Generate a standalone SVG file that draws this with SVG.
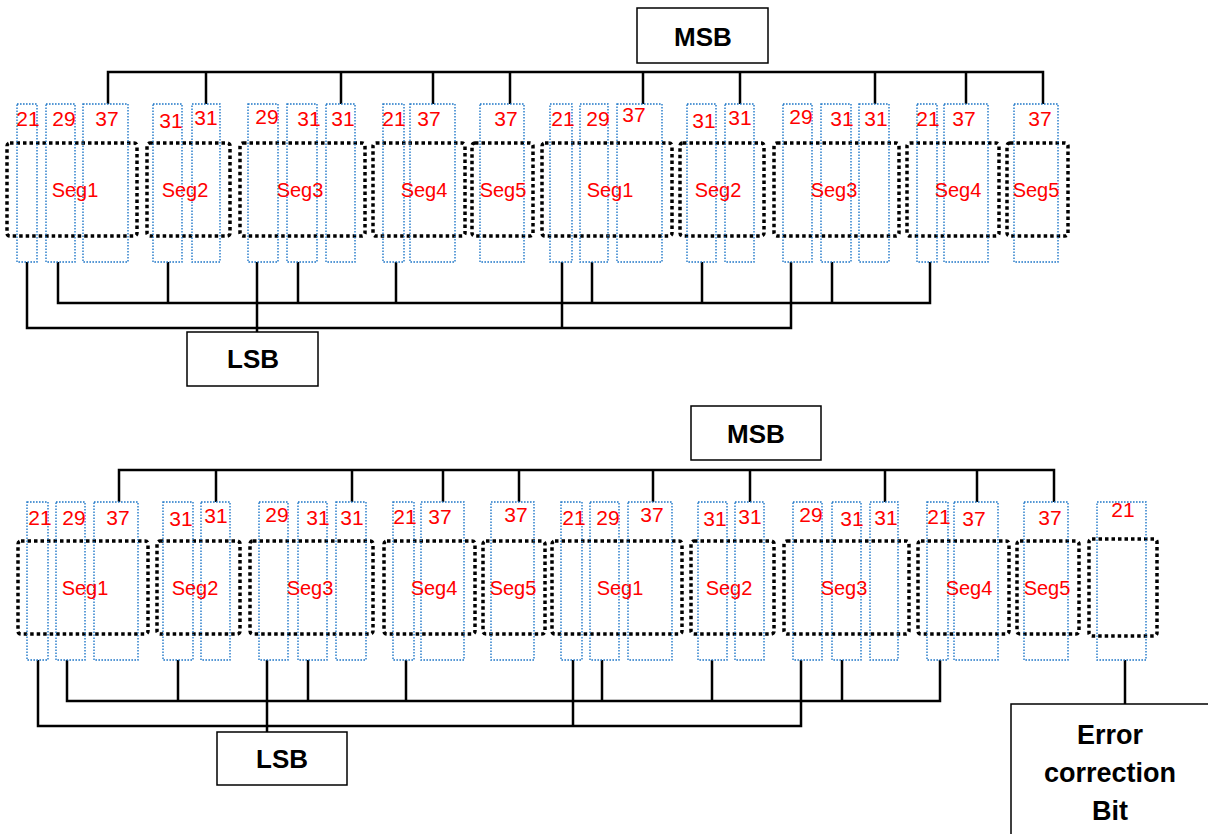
<svg xmlns="http://www.w3.org/2000/svg" width="1208" height="834" viewBox="0 0 1208 834">
<style>
.seg{fill:none;stroke:#000;stroke-width:3.5;stroke-dasharray:3.5 3}
.bit{fill:none;stroke:#1f77c8;stroke-width:1.4;stroke-dasharray:1.6 1.4}
.num{font-family:"Liberation Sans",Arial,sans-serif;font-size:21px;fill:#ff0000;text-anchor:middle}
.lbl{font-family:"Liberation Sans",Arial,sans-serif;font-size:20px;fill:#ff0000;text-anchor:middle}
.box{fill:#fff;stroke:#000;stroke-width:1.5}
.bt{font-family:"Liberation Sans",Arial,sans-serif;font-weight:bold;font-size:26px;fill:#000;text-anchor:middle}
.et{font-family:"Liberation Sans",Arial,sans-serif;font-weight:bold;font-size:27px;fill:#000;text-anchor:middle}
.w{fill:none;stroke:#000;stroke-width:2.5}
</style>

<g id="connectors">
  <path class="w" d="M108,104V72H1043V104M206,72V104M341,72V104M433,72V104M510,72V104M643,72V104M740,72V104M875,72V104M966,72V104"/>
  <path class="w" d="M58,262V303H930V262M168,262V303M298,262V303M396,262V303M592,262V303M702,262V303M832,262V303"/>
  <path class="w" d="M27,262V328H791V262M257,262V332M562,262V328"/>
  <path class="w" d="M119,502V470H1054V502M216,470V502M352,470V502M443,470V502M519,470V502M653,470V502M750,470V502M885,470V502M977,470V502"/>
  <path class="w" d="M67,660V701H940V660M178,660V701M308,660V701M406,660V701M602,660V701M712,660V701M842,660V701"/>
  <path class="w" d="M38,660V726H801V660M267,660V732M573,660V726"/>
  <path class="w" d="M1125,660V704"/>
</g>

<g id="msb-top"><rect class="box" x="637" y="8" width="131" height="55"/><text class="bt" x="703" y="46">MSB</text></g>
<g id="lsb-top"><rect class="box" x="187" y="332" width="131" height="54"/><text class="bt" x="253" y="368">LSB</text></g>
<g id="msb-bottom"><rect class="box" x="691" y="406" width="130" height="54"/><text class="bt" x="756" y="443">MSB</text></g>
<g id="lsb-bottom"><rect class="box" x="217" y="732" width="130" height="53"/><text class="bt" x="282" y="768">LSB</text></g>
<g id="error-box"><rect class="box" x="1011" y="704" width="210" height="140"/>
  <text class="et" x="1110" y="744">Error</text><text class="et" x="1110" y="782">correction</text><text class="et" x="1110" y="820">Bit</text></g>

<g id="t-seg1"><rect class="seg" x="7" y="143" width="130" height="93" rx="3"/>
  <rect class="bit" x="17" y="104" width="20" height="158"/><rect class="bit" x="46" y="104" width="29" height="158"/><rect class="bit" x="83" y="104" width="45" height="158"/>
  <text class="num" x="28" y="126">21</text><text class="num" x="64" y="126">29</text><text class="num" x="107" y="126">37</text><text class="lbl" x="75" y="197">Seg1</text></g>
<g id="t-seg2"><rect class="seg" x="147" y="143" width="83" height="93" rx="3"/>
  <rect class="bit" x="153" y="104" width="29" height="158"/><rect class="bit" x="192" y="104" width="28" height="158"/>
  <text class="num" x="171" y="128">31</text><text class="num" x="206" y="125">31</text><text class="lbl" x="185" y="197">Seg2</text></g>
<g id="t-seg3"><rect class="seg" x="240" y="143" width="125" height="93" rx="3"/>
  <rect class="bit" x="248" y="104" width="30" height="158"/><rect class="bit" x="287" y="104" width="30" height="158"/><rect class="bit" x="326" y="104" width="29" height="158"/>
  <text class="num" x="267" y="124">29</text><text class="num" x="309" y="126">31</text><text class="num" x="343" y="126">31</text><text class="lbl" x="300" y="197">Seg3</text></g>
<g id="t-seg4"><rect class="seg" x="373" y="143" width="92" height="93" rx="3"/>
  <rect class="bit" x="383" y="104" width="21" height="158"/><rect class="bit" x="410" y="104" width="45" height="158"/>
  <text class="num" x="394" y="126">21</text><text class="num" x="429" y="126">37</text><text class="lbl" x="424" y="197">Seg4</text></g>
<g id="t-seg5"><rect class="seg" x="472" y="143" width="61" height="93" rx="3"/>
  <rect class="bit" x="480" y="104" width="44" height="158"/>
  <text class="num" x="506" y="126">37</text><text class="lbl" x="503" y="197">Seg5</text></g>
<g id="t-seg1b"><rect class="seg" x="542" y="143" width="130" height="93" rx="3"/>
  <rect class="bit" x="550" y="104" width="22" height="158"/><rect class="bit" x="580" y="104" width="28" height="158"/><rect class="bit" x="617" y="104" width="45" height="158"/>
  <text class="num" x="563" y="126">21</text><text class="num" x="598" y="126">29</text><text class="num" x="634" y="122">37</text><text class="lbl" x="610" y="197">Seg1</text></g>
<g id="t-seg2b"><rect class="seg" x="680" y="143" width="84" height="93" rx="3"/>
  <rect class="bit" x="687" y="104" width="29" height="158"/><rect class="bit" x="725" y="104" width="29" height="158"/>
  <text class="num" x="704" y="128">31</text><text class="num" x="740" y="125">31</text><text class="lbl" x="718" y="197">Seg2</text></g>
<g id="t-seg3b"><rect class="seg" x="774" y="143" width="125" height="93" rx="3"/>
  <rect class="bit" x="783" y="104" width="29" height="158"/><rect class="bit" x="821" y="104" width="30" height="158"/><rect class="bit" x="859" y="104" width="30" height="158"/>
  <text class="num" x="801" y="124">29</text><text class="num" x="842" y="126">31</text><text class="num" x="876" y="126">31</text><text class="lbl" x="834" y="197">Seg3</text></g>
<g id="t-seg4b"><rect class="seg" x="907" y="143" width="92" height="93" rx="3"/>
  <rect class="bit" x="917" y="104" width="20" height="158"/><rect class="bit" x="944" y="104" width="44" height="158"/>
  <text class="num" x="928" y="126">21</text><text class="num" x="964" y="126">37</text><text class="lbl" x="958" y="197">Seg4</text></g>
<g id="t-seg5b"><rect class="seg" x="1007" y="143" width="61" height="93" rx="3"/>
  <rect class="bit" x="1014" y="104" width="44" height="158"/>
  <text class="num" x="1040" y="126">37</text><text class="lbl" x="1036" y="197">Seg5</text></g>

<g id="b-seg1"><rect class="seg" x="18" y="541" width="130" height="93" rx="3"/>
  <rect class="bit" x="27" y="502" width="21" height="158"/><rect class="bit" x="56" y="502" width="29" height="158"/><rect class="bit" x="94" y="502" width="44" height="158"/>
  <text class="num" x="40" y="525">21</text><text class="num" x="74" y="525">29</text><text class="num" x="118" y="525">37</text><text class="lbl" x="85" y="595">Seg1</text></g>
<g id="b-seg2"><rect class="seg" x="157" y="541" width="83" height="93" rx="3"/>
  <rect class="bit" x="163" y="502" width="30" height="158"/><rect class="bit" x="201" y="502" width="29" height="158"/>
  <text class="num" x="181" y="526">31</text><text class="num" x="216" y="523">31</text><text class="lbl" x="195" y="595">Seg2</text></g>
<g id="b-seg3"><rect class="seg" x="250" y="541" width="123" height="93" rx="3"/>
  <rect class="bit" x="259" y="502" width="29" height="158"/><rect class="bit" x="298" y="502" width="29" height="158"/><rect class="bit" x="336" y="502" width="30" height="158"/>
  <text class="num" x="277" y="522">29</text><text class="num" x="318" y="525">31</text><text class="num" x="352" y="525">31</text><text class="lbl" x="310" y="595">Seg3</text></g>
<g id="b-seg4"><rect class="seg" x="384" y="541" width="91" height="93" rx="3"/>
  <rect class="bit" x="393" y="502" width="21" height="158"/><rect class="bit" x="421" y="502" width="43" height="158"/>
  <text class="num" x="405" y="524">21</text><text class="num" x="440" y="524">37</text><text class="lbl" x="434" y="595">Seg4</text></g>
<g id="b-seg5"><rect class="seg" x="483" y="541" width="62" height="93" rx="3"/>
  <rect class="bit" x="491" y="502" width="43" height="158"/>
  <text class="num" x="516" y="522">37</text><text class="lbl" x="513" y="595">Seg5</text></g>
<g id="b-seg1b"><rect class="seg" x="552" y="541" width="130" height="93" rx="3"/>
  <rect class="bit" x="561" y="502" width="21" height="158"/><rect class="bit" x="590" y="502" width="29" height="158"/><rect class="bit" x="628" y="502" width="44" height="158"/>
  <text class="num" x="574" y="525">21</text><text class="num" x="608" y="525">29</text><text class="num" x="652" y="522">37</text><text class="lbl" x="620" y="595">Seg1</text></g>
<g id="b-seg2b"><rect class="seg" x="691" y="541" width="83" height="93" rx="3"/>
  <rect class="bit" x="698" y="502" width="29" height="158"/><rect class="bit" x="735" y="502" width="29" height="158"/>
  <text class="num" x="715" y="526">31</text><text class="num" x="750" y="524">31</text><text class="lbl" x="729" y="595">Seg2</text></g>
<g id="b-seg3b"><rect class="seg" x="784" y="541" width="125" height="93" rx="3"/>
  <rect class="bit" x="793" y="502" width="29" height="158"/><rect class="bit" x="832" y="502" width="29" height="158"/><rect class="bit" x="870" y="502" width="28" height="158"/>
  <text class="num" x="811" y="522">29</text><text class="num" x="852" y="526">31</text><text class="num" x="886" y="525">31</text><text class="lbl" x="844" y="595">Seg3</text></g>
<g id="b-seg4b"><rect class="seg" x="918" y="541" width="91" height="93" rx="3"/>
  <rect class="bit" x="927" y="502" width="21" height="158"/><rect class="bit" x="954" y="502" width="44" height="158"/>
  <text class="num" x="939" y="524">21</text><text class="num" x="974" y="526">37</text><text class="lbl" x="969" y="595">Seg4</text></g>
<g id="b-seg5b"><rect class="seg" x="1017" y="541" width="62" height="93" rx="3"/>
  <rect class="bit" x="1024" y="502" width="44" height="158"/>
  <text class="num" x="1050" y="525">37</text><text class="lbl" x="1047" y="595">Seg5</text></g>
<g id="b-err"><rect class="seg" x="1089" y="539" width="68" height="97" rx="3"/>
  <rect class="bit" x="1097" y="502" width="49" height="158"/>
  <text class="num" x="1123" y="517">21</text></g>
</svg>
